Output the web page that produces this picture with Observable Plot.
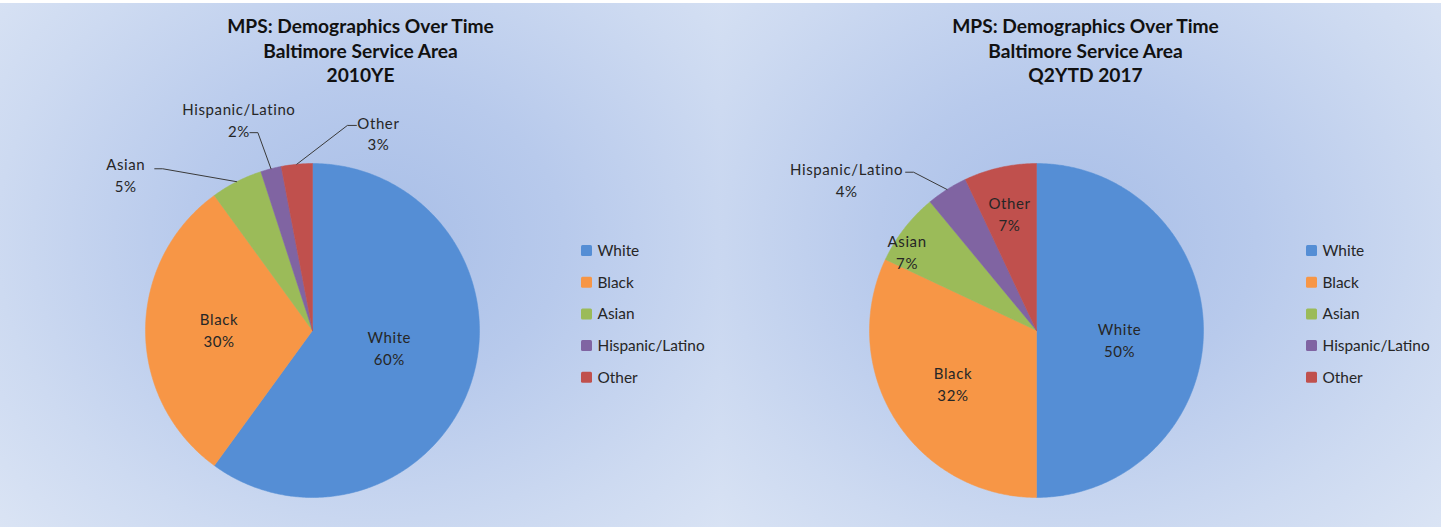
<!DOCTYPE html>
<html>
<head>
<meta charset="utf-8">
<script src="https://cdn.jsdelivr.net/npm/d3@7"></script>
<script src="https://cdn.jsdelivr.net/npm/@observablehq/plot@0.6"></script>
<style>
  html, body { margin: 0; padding: 0; background: #ffffff; }
  #chart { position: relative; width: 1441px; height: 527px; overflow: hidden; background: #ffffff; }
  .panel { position: absolute; top: 3px; height: 524px; }
  #p0 { left: 0; width: 721px;
    background: radial-gradient(ellipse 75% 85% at 52% 45%, #a8bee7 0%, #b8caec 35%, #cddaf1 70%, #dde6f5 100%); }
  #p1 { left: 721px; width: 720px;
    background: radial-gradient(ellipse 75% 85% at 48% 45%, #a8bee7 0%, #b8caec 35%, #cddaf1 70%, #dde6f5 100%); }
  #plot { position: absolute; left: 0; top: 0; }
</style>
</head>
<body>
<div id="chart">
  <div class="panel" id="p0"></div>
  <div class="panel" id="p1"></div>
  <div id="plot"></div>
</div>
<script>
// ---------------- data ----------------
const categories = ["White", "Black", "Asian", "Hispanic/Latino", "Other"];
const colors = ["#558ED5", "#F79646", "#9BBB59", "#8064A2", "#C0504D"];
const periods = ["2010YE", "Q2YTD 2017"];
const values2010 = [60, 30, 5, 2, 3];
const values2017 = [50, 32, 7, 4, 7];
const titleLines = ["MPS: Demographics Over Time", "Baltimore Service Area"];

// ---------------- layout ----------------
const W = 1441, H = 527;
const panels = [
  { values: values2010, cx: 312, cy: 330, r: 167, titleX: 360, legendX: 581,
    // label placement: radius factor and angle offset (deg) relative to slice mid-angle
    place: {
      "White": { k: 0.47, da: -6 },
      "Black": { k: 0.56, da: 1 },
      "Asian": { k: 1.46, da: -23, leader: [[29, -5], [37, -5]] },
      "Hispanic/Latino": { k: 1.34, da: -4.8, leader: [[11, 13.5], [19, 13.5]] },
      "Other": { k: 1.25, da: 23.8, leader: [[-22, -7], [-31, -7]] }
    } },
  { values: values2017, cx: 1036, cy: 330, r: 167, titleX: 1085, legendX: 1306,
    place: {
      "White": { k: 0.50, da: 6 },
      "Black": { k: 0.59, da: 0.4 },
      "Asian": { k: 0.91, da: -6.2 },
      "Hispanic/Latino": { k: 1.455, da: -19, leader: [[59, -6.7], [67, -6.7]] },
      "Other": { k: 0.72, da: -0.4 }
    } }
];
const legendTop = 250.5, legendStep = 31.7, swatch = 11;

// ---------------- derived marks data ----------------
const slicePts = [], labels = [], leaders = [], legendRects = [], legendTexts = [], titles = [];
panels.forEach((p, pi) => {
  const data = categories.map((c, i) => ({ category: c, value: p.values[i] }));
  const arcs = d3.pie().sort(null).value(d => d.value)(data);
  arcs.forEach(a => {
    const key = pi + "-" + a.data.category;
    slicePts.push({ key, category: a.data.category, x: p.cx, y: p.cy });
    const n = Math.max(2, Math.ceil((a.endAngle - a.startAngle) / 0.01));
    for (let i = 0; i <= n; i++) {
      const t = a.startAngle + (a.endAngle - a.startAngle) * i / n;
      slicePts.push({ key, category: a.data.category, x: p.cx + p.r * Math.sin(t), y: p.cy - p.r * Math.cos(t) });
    }
    slicePts.push({ key, category: a.data.category, x: p.cx, y: p.cy });
    const mid = (a.startAngle + a.endAngle) / 2;
    const pl = p.place[a.data.category];
    const la = mid + pl.da * Math.PI / 180;
    const lx = p.cx + pl.k * p.r * Math.sin(la), ly = p.cy - pl.k * p.r * Math.cos(la);
    labels.push({ x: lx, y: ly, text: a.data.category + "\n" + a.data.value + "%" });
    if (pl.leader) {
      const key2 = "L" + key;
      pl.leader.forEach(([dx, dy]) => leaders.push({ key: key2, x: lx + dx, y: ly + dy }));
      leaders.push({ key: key2, x: p.cx + p.r * Math.sin(mid), y: p.cy - p.r * Math.cos(mid) });
    }
  });
  categories.forEach((c, i) => {
    const yc = legendTop + i * legendStep;
    legendRects.push({ category: c, x1: p.legendX, x2: p.legendX + swatch, y1: yc - swatch / 2, y2: yc + swatch / 2 });
    legendTexts.push({ x: p.legendX + swatch + 5, y: yc, text: c });
  });
  titles.push({ x: p.titleX, y: 49, text: [...titleLines, periods[pi]].join("\n") });
});

const font = "Lato, 'Open Sans', sans-serif";
const plot = Plot.plot({
  width: W, height: H, margin: 0,
  style: { background: "transparent", overflow: "visible" },
  x: { domain: [0, W], range: [0, W], axis: null },
  y: { domain: [0, H], range: [0, H], axis: null },
  color: { domain: categories, range: colors },
  marks: [
    Plot.line(slicePts, { x: "x", y: "y", z: "key", fill: "category", stroke: "category", strokeWidth: 0.5, curve: "linear" }),
    Plot.line(leaders, { x: "x", y: "y", z: "key", stroke: "#3a3a3a", strokeWidth: 1, curve: "linear" }),
    Plot.text(labels, { x: "x", y: "y", text: "text", fontSize: 15, fontFamily: font, fill: "#262626", lineHeight: 1.45 }),
    Plot.rect(legendRects, { x1: "x1", x2: "x2", y1: "y1", y2: "y2", fill: "category", rx: 1.5 }),
    Plot.text(legendTexts, { x: "x", y: "y", text: "text", textAnchor: "start", fontSize: 15.4, fontFamily: font, fill: "#262626" }),
    Plot.text(titles, { x: "x", y: "y", text: "text", fontSize: 19.2, fontWeight: "bold", fontFamily: font, fill: "#111", lineHeight: 1.3 })
  ]
});
// slightly spaced data labels (those carrying a percentage)
d3.select(plot).selectAll("text")
  .filter(function () { return this.textContent.includes("%"); })
  .attr("letter-spacing", "0.6")
  .selectAll("tspan").attr("letter-spacing", "0.6");
document.getElementById("plot").appendChild(plot);
</script>
</body>
</html>
